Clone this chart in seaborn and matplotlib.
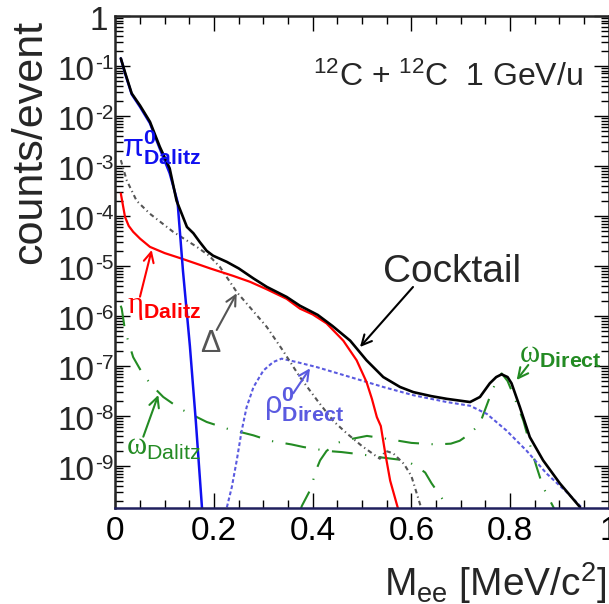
import numpy as np
import pandas as pd
import matplotlib
matplotlib.use("Agg")
import matplotlib.pyplot as plt
import matplotlib.ticker as mticker
import matplotlib.transforms as mtransforms
import seaborn as sns

# ---------------- data ----------------
cocktail_x = [0.011, 0.020, 0.033, 0.050, 0.070, 0.090, 0.110, 0.124, 0.145, 0.158, 0.171, 0.185, 0.198,
              0.226, 0.250, 0.280, 0.307, 0.347, 0.374, 0.410, 0.440, 0.476, 0.509, 0.543, 0.577, 0.604,
              0.640, 0.672, 0.719, 0.739, 0.759, 0.772, 0.783, 0.795, 0.803, 0.820, 0.840, 0.867, 0.901, 0.942]
cocktail_y = [1.4e-1, 7.1e-2, 2.8e-2, 1.6e-2, 7.6e-3, 2.4e-3, 8.9e-4, 2.0e-4, 6.0e-5, 4.5e-5, 3.0e-5, 2.0e-5, 1.6e-5,
              1.2e-5, 8.9e-6, 5.6e-6, 3.8e-6, 2.4e-6, 1.6e-6, 1.05e-6, 6.3e-7, 3.2e-7, 1.3e-7, 6.0e-8, 3.8e-8, 3.0e-8,
              2.5e-8, 2.2e-8, 1.9e-8, 2.4e-8, 4.5e-8, 6.0e-8, 6.8e-8, 6.0e-8, 4.5e-8, 1.5e-8, 3.8e-9, 1.3e-9, 4.5e-10, 1.5e-10]

pi0_x = [0.011, 0.020, 0.033, 0.050, 0.070, 0.090, 0.110, 0.126, 0.137, 0.151, 0.163, 0.176]
pi0_y = [1.4e-1, 6.8e-2, 2.7e-2, 1.5e-2, 7.1e-3, 2.2e-3, 7.1e-4, 1.9e-4, 7.9e-6, 2.5e-7, 7.9e-9, 1.26e-10]

eta_x = [0.011, 0.0195, 0.027, 0.036, 0.050, 0.070, 0.100, 0.134, 0.171, 0.192, 0.239, 0.273, 0.307, 0.347,
         0.374, 0.400, 0.428, 0.462, 0.489, 0.509, 0.520, 0.530, 0.538, 0.547, 0.557, 0.573]
eta_y = [2.8e-4, 9.5e-5, 6.3e-5, 4.8e-5, 3.5e-5, 2.4e-5, 1.8e-5, 1.4e-5, 1.05e-5, 8.9e-6, 6.3e-6, 4.8e-6, 3.4e-6, 2.2e-6,
         1.4e-6, 1.07e-6, 7.1e-7, 3.2e-7, 1.3e-7, 4.8e-8, 2.2e-8, 9.5e-9, 6.3e-9, 1.8e-9, 5.1e-10, 1.4e-10]

delta_x = [0.011, 0.023, 0.043, 0.070, 0.117, 0.165, 0.190, 0.212, 0.246, 0.275, 0.307, 0.340, 0.374, 0.410,
           0.442, 0.469, 0.500, 0.536, 0.548, 0.563, 0.585, 0.600, 0.617, 0.625]
delta_y = [1.3e-3, 5.1e-4, 2.0e-4, 1.1e-4, 4.8e-5, 2.4e-5, 1.6e-5, 9.5e-6, 3.0e-6, 1.4e-6, 6.0e-7, 2.0e-7, 6.0e-8, 2.0e-8,
           7.9e-9, 4.5e-9, 2.5e-9, 1.4e-9, 2.0e-9, 1.8e-9, 1.1e-9, 6.3e-10, 1.8e-10, 1.0e-10]

rho_x = [0.226, 0.236, 0.246, 0.256, 0.266, 0.280, 0.300, 0.320, 0.337, 0.367, 0.408, 0.476, 0.543, 0.604,
         0.672, 0.719, 0.753, 0.793, 0.834, 0.874, 0.915, 0.942, 0.950]
rho_y = [1.5e-10, 3.8e-10, 1.3e-9, 5.1e-9, 1.5e-8, 3.8e-8, 8.1e-8, 1.2e-7, 1.4e-7, 1.2e-7, 9.5e-8, 6.0e-8, 3.8e-8, 2.6e-8,
         1.9e-8, 1.6e-8, 1.1e-8, 5.1e-9, 2.0e-9, 7.1e-10, 3.0e-10, 1.6e-10, 1.3e-10]

omd_x = [0.0107, 0.0128, 0.0195, 0.036, 0.057, 0.077, 0.097, 0.131, 0.185, 0.226, 0.280, 0.313, 0.357, 0.381,
         0.430, 0.459, 0.500, 0.536, 0.560, 0.587, 0.610, 0.628, 0.641, 0.658, 0.672, 0.680]
omd_y = [1.6e-6, 1.4e-6, 5.1e-7, 1.5e-7, 6.5e-8, 3.8e-8, 2.4e-8, 1.4e-8, 7.6e-9, 5.6e-9, 4.1e-9, 3.2e-9, 2.7e-9, 2.4e-9,
         2.0e-9, 1.9e-9, 1.7e-9, 1.5e-9, 1.4e-9, 1.3e-9, 1.0e-9, 7.4e-10, 4.5e-10, 2.6e-10, 1.6e-10, 1.1e-10]

omdir_x = [0.375, 0.378, 0.398, 0.404, 0.415, 0.428, 0.449, 0.480, 0.510, 0.550, 0.600, 0.650, 0.680, 0.698,
           0.720, 0.739, 0.759, 0.772, 0.783, 0.795, 0.807, 0.827, 0.844, 0.854, 0.867, 0.888, 0.892]
omdir_y = [1.3e-10, 1.6e-10, 3.8e-10, 7.1e-10, 1.3e-9, 2.0e-9, 2.9e-9, 3.5e-9, 4.0e-9, 3.5e-9, 2.9e-9, 2.7e-9, 2.8e-9, 3.2e-9,
           4.5e-9, 7.1e-9, 2.4e-8, 5.0e-8, 7.1e-8, 5.0e-8, 2.6e-8, 8.1e-9, 2.0e-9, 9.5e-10, 3.8e-10, 1.5e-10, 1.1e-10]

x_ticks = [0, 0.2, 0.4, 0.6, 0.8, 1.0]
y_ticks = [1e-9, 1e-8, 1e-7, 1e-6, 1e-5, 1e-4, 1e-3, 1e-2, 1e-1, 1]
y_exponents = ["-9", "-8", "-7", "-6", "-5", "-4", "-3", "-2", "-1", ""]

# ---------------- style ----------------
sns.set_style("ticks")
plt.rcParams['font.family'] = ['Liberation Sans', 'DejaVu Sans']
plt.rcParams['mathtext.fontset'] = 'custom'
plt.rcParams['mathtext.rm'] = 'Liberation Sans'
plt.rcParams['mathtext.sf'] = 'Liberation Sans'
plt.rcParams['mathtext.it'] = 'Liberation Sans:italic'
plt.rcParams['mathtext.bf'] = 'Liberation Sans:bold'
plt.rcParams['mathtext.tt'] = 'Liberation Serif'
plt.rcParams['mathtext.default'] = 'regular'

W, H = 609, 604
fig = plt.figure(figsize=(W / 100, H / 100), dpi=100)
L, R, T, B = 115.4, 608.7, 15.7, 507.7
ax = fig.add_axes([L / W, 1 - B / H, (R - L) / W, (B - T) / H])


def P(px, py):
    return (px / W, 1 - py / H)


GREEN = "#238b23"
series = [
    (omd_x, omd_y, GREEN, 1.5, (0, (10, 6, 0.6, 6))),
    (omdir_x, omdir_y, GREEN, 1.5, (0, (10, 6, 0.6, 6))),
    (rho_x, rho_y, "#5a5ae0", 1.5, (0, (1.8, 1.2))),
    (delta_x, delta_y, "#555555", 1.5, (0, (2.2, 1.6, 0.6, 1.6))),
    (eta_x, eta_y, "#ff0000", 1.6, "-"),
    (pi0_x, pi0_y, "#1010f0", 1.8, "-"),
    (cocktail_x, cocktail_y, "black", 1.9, "-"),
]
for xs, ys, c, lw, ls in series:
    df = pd.DataFrame({"x": xs, "y": ys})
    sns.lineplot(data=df, x="x", y="y", ax=ax, color=c, linewidth=lw,
                 linestyle=ls, estimator=None, sort=False)

ax.set_yscale("log")
ax.set_xlim(0, 1)
ax.set_ylim(1.47e-10, 1.0)
ax.set_xlabel("")
ax.set_ylabel("")

ax.xaxis.set_major_locator(mticker.FixedLocator(x_ticks))
ax.xaxis.set_minor_locator(mticker.MultipleLocator(0.05))
ax.xaxis.set_major_formatter(mticker.FuncFormatter(lambda v, p: f"{v:g}"))
ax.yaxis.set_major_locator(mticker.FixedLocator(y_ticks))
ax.yaxis.set_minor_locator(mticker.LogLocator(base=10, subs=np.arange(2, 10), numticks=30))
ax.yaxis.set_major_formatter(mticker.NullFormatter())
ax.yaxis.set_minor_formatter(mticker.NullFormatter())

ax.tick_params(which="both", direction="in", top=True, right=True, colors="black")
ax.tick_params(which="major", length=11, width=1.0, labelsize=24, pad=6)
ax.tick_params(which="minor", length=5.5, width=1.0)
for s in ax.spines.values():
    s.set_linewidth(1.8)
    s.set_zorder(10)
ax.spines["bottom"].set_color("#20205e")

# y tick labels (ROOT style: 10 with a small raised exponent)
blend = mtransforms.blended_transform_factory(ax.transAxes, ax.transData)
for v, ex in zip(y_ticks, y_exponents):
    if ex == "":
        tr = mtransforms.offset_copy(blend, fig=fig, x=-7.5, y=-14, units="dots")
        ax.text(0, v, "1", fontsize=24, ha="right", va="baseline", transform=tr, clip_on=False)
    else:
        tr1 = mtransforms.offset_copy(blend, fig=fig, x=-21, y=-14, units="dots")
        ax.text(0, v, "10", fontsize=24, ha="right", va="baseline", transform=tr1, clip_on=False)
        tr2 = mtransforms.offset_copy(blend, fig=fig, x=-20.5, y=-3, units="dots")
        ax.text(0, v, ex, fontsize=15, ha="left", va="baseline", transform=tr2, clip_on=False)

# axis titles
fig.text(*P(606, 596), r"M$_{\mathrm{ee}}$ [MeV/c$^{2}$]", fontsize=28,
         ha="right", va="baseline")
fig.text(*P(41, 20), "counts/event", fontsize=31, rotation=90,
         rotation_mode="anchor", ha="right", va="baseline")

# annotations
fig.text(*P(313, 86), r"$^{12}$C + $^{12}$C  1 GeV/u", fontsize=23, ha="left", va="baseline")
fig.text(*P(383, 282), "Cocktail", fontsize=28, ha="left", va="baseline")

fig.text(*P(122, 157), r"$\mathrm{\pi}^{\mathbf{0}}_{\mathbf{Dalitz}}$", fontsize=22,
         color="#1010f0", ha="left", va="baseline")
fig.text(*P(127, 313), r"$\mathtt{\eta}_{\mathbf{Dalitz}}$", fontsize=22,
         color="#ff0000", ha="left", va="baseline")
fig.text(*P(200, 352), "Δ", fontsize=22, color="#555555", ha="left", va="baseline")
fig.text(*P(264, 413), r"$\rho^{\mathbf{0}}_{\mathbf{Direct}}$", fontsize=22,
         color="#5a5ae0", ha="left", va="baseline")
fig.text(*P(126, 455), r"$\mathtt{\omega}_{\mathrm{Dalitz}}$", fontsize=22,
         color=GREEN, ha="left", va="baseline")
fig.text(*P(519, 363), r"$\mathtt{\omega}_{\mathbf{Direct}}$", fontsize=22,
         color=GREEN, ha="left", va="baseline")

arrows = [
    ((140, 296.7), (151.7, 250), "#ff0000"),
    ((216.7, 330), (236.7, 293.3), "#555555"),
    ((143.3, 436.7), (158.3, 395), GREEN),
    ((293.3, 393.3), (310, 368.3), "#5a5ae0"),
    ((413, 287), (360, 347), "black"),
    ((528.3, 365), (516.7, 380), GREEN),
]
for (t, h, c) in arrows:
    ax.annotate("", xy=P(*h), xycoords="figure fraction", xytext=P(*t),
                textcoords="figure fraction",
                arrowprops=dict(arrowstyle="->", color=c, lw=1.5, mutation_scale=18,
                                shrinkA=0, shrinkB=0))

fig.savefig("out.png", dpi=100)
